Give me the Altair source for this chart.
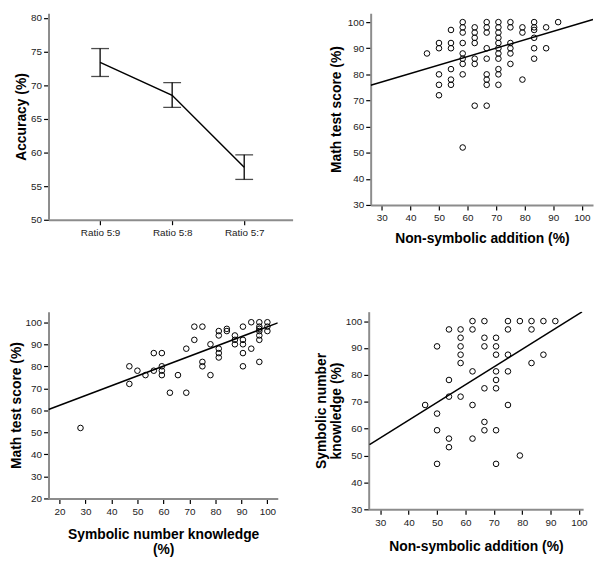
import altair as alt
import pandas as pd

# ---------- Panel 1: accuracy by ratio ----------
ratios = ["Ratio 5:9", "Ratio 5:8", "Ratio 5:7"]
acc_mean = [73.4, 68.5, 57.8]
acc_upper = [75.45, 70.4, 59.65]
acc_lower = [71.3, 66.7, 56.0]

# ---------- Panel 2: non-symbolic addition vs math test score ----------
nsa_vs_math = {
    45.8: [88],
    50.0: [92, 90, 80, 76, 72],
    54.2: [97, 92, 90, 82, 78, 76],
    58.3: [100, 98, 96, 92, 88, 86, 84, 80, 52],
    62.5: [98, 96, 94, 92, 86, 84, 68],
    66.7: [100, 98, 96, 90, 86, 80, 78, 76, 68],
    70.8: [100, 98, 96, 94, 92, 90, 88, 86, 82, 80, 76],
    75.0: [100, 98, 92, 90, 88, 84],
    79.2: [98, 96, 78],
    83.3: [100, 98, 97, 94, 90, 86],
    87.5: [98, 90],
    91.7: [100],
}
fit2_x = [26.1, 103.9]
fit2_y = [75.8, 101.0]

# ---------- Panel 3: symbolic number knowledge vs math test score ----------
sym_vs_math = {
    28.1: [52],
    46.9: [80, 72],
    50.0: [78],
    53.1: [76],
    56.3: [86, 78],
    59.4: [86, 80, 78, 76],
    62.5: [68],
    65.6: [76],
    68.8: [88, 68],
    71.9: [98, 92],
    75.0: [98, 82, 80],
    78.1: [90, 76],
    81.3: [96, 94, 88, 86, 84],
    84.4: [97, 96],
    87.5: [94, 92, 90],
    90.6: [98, 92, 90, 86, 80],
    93.8: [100, 88],
    96.9: [100, 98, 97, 96, 94, 92, 82],
    100.0: [100, 98, 96],
}
fit3_x = [15.8, 104.0]
fit3_y = [60.4, 99.7]

# ---------- Panel 4: non-symbolic addition vs symbolic number knowledge ----------
nsa_vs_sym = {
    45.8: [68.8],
    50.0: [90.6, 65.6, 59.4, 46.9],
    54.2: [96.9, 78.1, 71.9, 56.3, 53.1],
    58.3: [96.9, 93.8, 90.6, 87.5, 84.4, 71.9],
    62.5: [100, 96.9, 81.3, 68.8, 56.3],
    66.7: [100, 93.8, 90.6, 75, 62.5, 59.4],
    70.8: [93.8, 90.6, 87.5, 81.3, 78.1, 75, 59.4, 46.9],
    75.0: [100, 96.9, 87.5, 81.3, 68.8],
    79.2: [100, 50],
    83.3: [100, 96.9, 84.4],
    87.5: [100, 87.5],
    91.7: [100],
}
fit4_x = [26.2, 101.1]
fit4_y = [54.1, 103.4]


def flatten(cols):
    xs, ys = [], []
    for x, yl in cols.items():
        for y in yl:
            xs.append(x)
            ys.append(y)
    return pd.DataFrame({"x": xs, "y": ys})


def yaxis(title, values, tp):
    return alt.Axis(title=title, values=values, titlePadding=tp, labelPadding=2,
                    labelOverlap=False, labelFlush=False, tickCount=len(values))


def xaxis(title, values, tp):
    return alt.Axis(title=title, values=values, titlePadding=tp, labelPadding=3,
                    labelOverlap=False, labelFlush=False, tickCount=len(values))


# ---------- Panel 1 ----------
df1 = pd.DataFrame({"ratio": ratios, "mean": acc_mean,
                    "upper": acc_upper, "lower": acc_lower})
x1_axis = alt.Axis(title=None, labelAngle=0, labelPadding=3, labelOverlap=False)
x1_scale = alt.Scale(type="point", padding=0.694, align=0.516)
y1_scale = alt.Scale(domain=[50, 80.7], nice=False, zero=False)
y1_axis = yaxis("Accuracy (%)", [50, 55, 60, 65, 70, 75, 80], 2)
x1 = alt.X("ratio:N", sort=ratios, scale=x1_scale, axis=x1_axis)
b1 = alt.Chart(df1)
p1_line = b1.mark_line(color="black", strokeWidth=1.5).encode(
    x=x1, y=alt.Y("mean:Q", scale=y1_scale, axis=y1_axis))
p1_rule = b1.mark_rule(color="black", strokeWidth=1.3).encode(
    x=x1, y=alt.Y("lower:Q", scale=y1_scale, axis=y1_axis), y2="upper:Q")
p1_cap_u = b1.mark_tick(color="black", size=18, thickness=1.3).encode(
    x=x1, y=alt.Y("upper:Q", scale=y1_scale, axis=y1_axis))
p1_cap_l = b1.mark_tick(color="black", size=18, thickness=1.3).encode(
    x=x1, y=alt.Y("lower:Q", scale=y1_scale, axis=y1_axis))
p1 = alt.layer(p1_line, p1_rule, p1_cap_u, p1_cap_l).properties(width=247, height=209)


def scatter(cols, fx, fy, xdom, ydom, xvals, yvals, xtitle, ytitle,
            xtp, ytp, w, h):
    pts = flatten(cols)
    fit = pd.DataFrame({"x": fx, "y": fy})
    xs = alt.Scale(domain=xdom, nice=False, zero=False)
    ys = alt.Scale(domain=ydom, nice=False, zero=False)
    xa = xaxis(xtitle, xvals, xtp)
    ya = yaxis(ytitle, yvals, ytp)
    pl = alt.Chart(pts).mark_point(shape="circle", filled=False, color="black",
                                   size=32, strokeWidth=1, opacity=1).encode(
        x=alt.X("x:Q", scale=xs, axis=xa),
        y=alt.Y("y:Q", scale=ys, axis=ya))
    ln = alt.Chart(fit).mark_line(color="black", strokeWidth=1.5, clip=True).encode(
        x=alt.X("x:Q", scale=xs, axis=xa), y=alt.Y("y:Q", scale=ys, axis=ya))
    return alt.layer(pl, ln).properties(width=w, height=h)


p2 = scatter(nsa_vs_math, fit2_x, fit2_y, [26.1, 103.9], [30, 103.4],
             list(range(30, 101, 10)), list(range(30, 101, 10)),
             "Non-symbolic addition (%)", "Math test score (%)", 9, 4, 225, 194)
p3 = scatter(sym_vs_math, fit3_x, fit3_y, [15.8, 104.0], [20, 104.8],
             list(range(20, 101, 10)), list(range(20, 101, 10)),
             ["Symbolic number knowledge", "(%)"], "Math test score (%)", 12, 2, 232, 189)
p4 = scatter(nsa_vs_sym, fit4_x, fit4_y, [25.9, 101.5], [30, 103.5],
             list(range(30, 101, 10)), list(range(30, 101, 10)),
             "Non-symbolic addition (%)", ["Symbolic number", "knowledge (%)"], 13, 2, 217, 200)

FONT = "Liberation Sans"
row1 = alt.hconcat(p1, p2, spacing=35)
row2 = alt.hconcat(p3, p4, spacing=35)
chart = alt.vconcat(row1, row2, spacing=65).properties(
    padding={"top": 1, "left": 0, "right": 0, "bottom": 0},
    background="white",
).configure_view(
    stroke="transparent"
).configure_axis(
    labelFont=FONT, labelFontSize=10, labelColor="#222222",
    titleFont=FONT, titleFontSize=14, titleFontWeight="bold",
    titleColor="#000000", titleLineHeight=15,
    domainColor="#8c8c8c", domainWidth=2,
    tickColor="#000000", tickWidth=1.2, tickSize=5, grid=False,
    labelOverlap=False, labelFlush=False, labelSeparation=0, labelBound=False,
)

chart.save("out.html", embed_options={"renderer": "svg", "actions": False})
